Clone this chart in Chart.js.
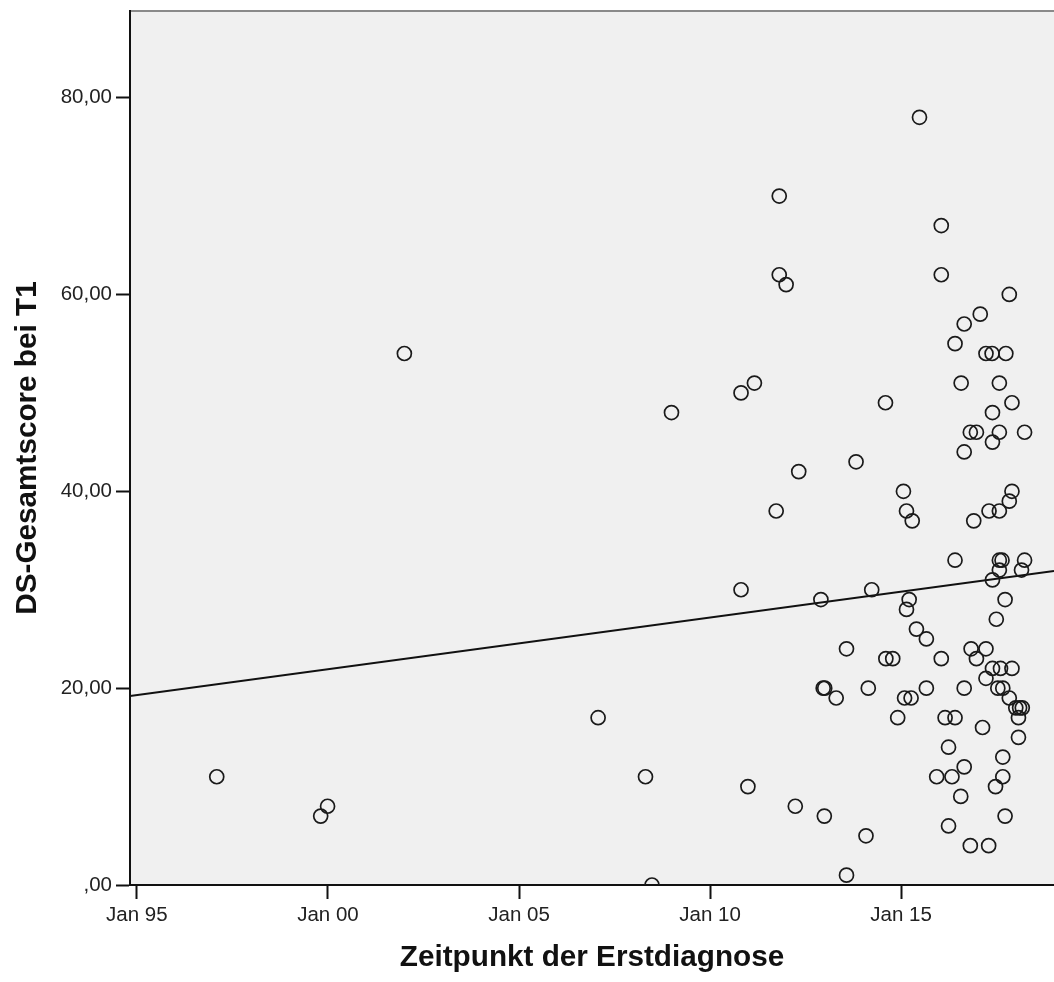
<!DOCTYPE html>
<html>
<head>
<meta charset="utf-8">
<script src="https://cdn.jsdelivr.net/npm/chart.js@4/dist/chart.umd.min.js"></script>
<style>
  html, body { margin: 0; padding: 0; background: #fff; overflow: hidden; }
  #wrap { width: 1054px; height: 982px; position: relative; }
  #scatter { display: block; }
</style>
</head>
<body>
<div id="wrap"><canvas id="scatter"></canvas></div>
<script>
// diagnosis date (decimal years) and DS total score at T1
let diagYears = [
  1997.09, 1999.81, 1999.99, 2002.0, 2007.07, 2008.31, 2008.48, 2008.99,
  2010.81, 2011.16, 2010.81, 2010.99, 2011.81, 2011.81, 2011.99, 2011.73,
  2012.32, 2012.23, 2012.9, 2012.96, 2013.0, 2013.3, 2012.99, 2013.57,
  2013.82, 2013.57, 2014.08, 2014.14, 2014.23, 2014.59, 2014.6, 2014.78,
  2015.48, 2015.06, 2015.14, 2015.29, 2015.21, 2015.14, 2015.4, 2015.66,
  2014.91, 2015.09, 2015.26, 2015.66, 2016.05, 2016.05, 2017.83, 2017.07,
  2016.65, 2016.41, 2017.22, 2017.38, 2017.74, 2016.57, 2017.57, 2017.9,
  2017.39, 2016.81, 2016.97, 2017.57, 2018.23, 2017.39, 2016.65, 2017.9,
  2017.83, 2017.3, 2017.57, 2016.9, 2016.41, 2017.57, 2017.64, 2018.23,
  2017.57, 2018.15, 2017.39, 2017.72, 2017.49, 2016.83, 2017.22, 2016.97,
  2016.05, 2017.39, 2017.6, 2017.9, 2017.22, 2017.53, 2017.66, 2016.65,
  2017.83, 2018.0, 2018.1, 2018.17, 2018.07, 2016.15, 2016.41, 2017.13,
  2018.07, 2016.24, 2017.66, 2016.65, 2015.93, 2016.33, 2017.66, 2017.47,
  2016.56, 2017.72, 2016.24, 2016.81, 2017.29
]
let dsScores = [
  11, 7, 8, 54, 17, 11, 0, 48,
  50, 51, 30, 10, 70, 62, 61, 38,
  42, 8, 29, 20, 20, 19, 7, 24,
  43, 1, 5, 20, 30, 49, 23, 23,
  78, 40, 38, 37, 29, 28, 26, 25,
  17, 19, 19, 20, 67, 62, 60, 58,
  57, 55, 54, 54, 54, 51, 51, 49,
  48, 46, 46, 46, 46, 45, 44, 40,
  39, 38, 38, 37, 33, 33, 33, 33,
  32, 32, 31, 29, 27, 24, 24, 23,
  23, 22, 22, 22, 21, 20, 20, 20,
  19, 18, 18, 18, 17, 17, 17, 16,
  15, 14, 13, 12, 11, 11, 11, 10,
  9, 7, 6, 4, 4
]

// linear fit line, start and end of the visible range
let fitYears = [1994.82, 2019.0]
let fitScores = [19.2, 31.9]

let xTicks = [1995, 2000, 2005, 2010, 2015]
let yTicks = [0, 20, 40, 60, 80]

let points = diagYears.map(function(year, i) {
    return { x: year, y: dsScores[i] }
})
let fitPoints = fitYears.map(function(year, i) {
    return { x: year, y: fitScores[i] }
})

// grey plot background + top frame line
let plotFrame = {
    id: 'plotFrame',
    beforeDraw: function(chart) {
        let ctx = chart.ctx
        let a = chart.chartArea
        ctx.save()
        ctx.fillStyle = '#f0f0f0'
        ctx.fillRect(a.left, a.top, a.right - a.left, a.bottom - a.top)
        ctx.strokeStyle = '#8a8a8a'
        ctx.lineWidth = 2
        ctx.beginPath()
        ctx.moveTo(a.left, a.top)
        ctx.lineTo(a.right, a.top)
        ctx.stroke()
        ctx.restore()
    }
}

let tickFont = { family: 'Liberation Sans, Arial, sans-serif', size: 20.5 }
let titleFont = { family: 'Liberation Sans, Arial, sans-serif', size: 29.7, weight: 'bold' }

let scatterChart = new Chart(document.getElementById('scatter'), {
    type: 'scatter',
    data: {
        datasets: [{
                label: 'DS-Gesamtscore',
                data: points,
                pointRadius: 7,
                pointHoverRadius: 7,
                pointBorderWidth: 1.7,
                pointBorderColor: '#1a1a1a',
                pointBackgroundColor: 'rgba(0,0,0,0)',
                clip: 0
            },
            {
                label: 'Fit',
                type: 'line',
                data: fitPoints,
                borderColor: '#111',
                borderWidth: 2,
                pointRadius: 0,
                fill: false,
                clip: 0
            }
        ]
    },
    options: {
        responsive: true,
        maintainAspectRatio: false,
        animation: false,
        layout: {
            autoPadding: false,
            padding: { top: 11, right: 0, left: 0, bottom: 0 }
        },
        plugins: {
            legend: { display: false },
            tooltip: { enabled: false }
        },
        scales: {
            x: {
                type: 'linear',
                min: 1994.82,
                max: 2019.0,
                afterBuildTicks: function(scale) {
                    scale.ticks = xTicks.map(function(v) { return { value: v } })
                },
                afterFit: function(scale) {
                    scale.height = 97
                    scale.paddingLeft = 0
                    scale.paddingRight = 0
                },
                grid: {
                    drawOnChartArea: false,
                    drawTicks: true,
                    tickLength: 14,
                    tickWidth: 2,
                    tickColor: '#111'
                },
                border: { color: '#111', width: 2 },
                ticks: {
                    color: '#222',
                    font: tickFont,
                    padding: 4,
                    maxRotation: 0,
                    callback: function(v) { return 'Jan ' + String(v).slice(2) }
                },
                title: {
                    display: true,
                    text: 'Zeitpunkt der Erstdiagnose',
                    color: '#111',
                    font: titleFont,
                    padding: { top: 4, bottom: 6 }
                }
            },
            y: {
                min: 0,
                max: 88.8,
                afterBuildTicks: function(scale) {
                    scale.ticks = yTicks.map(function(v) { return { value: v } })
                },
                afterFit: function(scale) {
                    scale.width = 130
                    scale.paddingTop = 0
                    scale.paddingBottom = 0
                },
                grid: {
                    drawOnChartArea: false,
                    drawTicks: true,
                    tickLength: 14,
                    tickWidth: 2,
                    tickColor: '#111'
                },
                border: { color: '#111', width: 2 },
                ticks: {
                    color: '#222',
                    font: tickFont,
                    padding: 4,
                    callback: function(v) {
                        if (v === 0) return ',00'
                        return v.toFixed(2).replace('.', ',')
                    }
                },
                title: {
                    display: true,
                    text: 'DS-Gesamtscore bei T1',
                    color: '#111',
                    font: titleFont,
                    padding: { top: 10, bottom: 4 }
                }
            }
        }
    },
    plugins: [plotFrame]
})
</script>
</body>
</html>
